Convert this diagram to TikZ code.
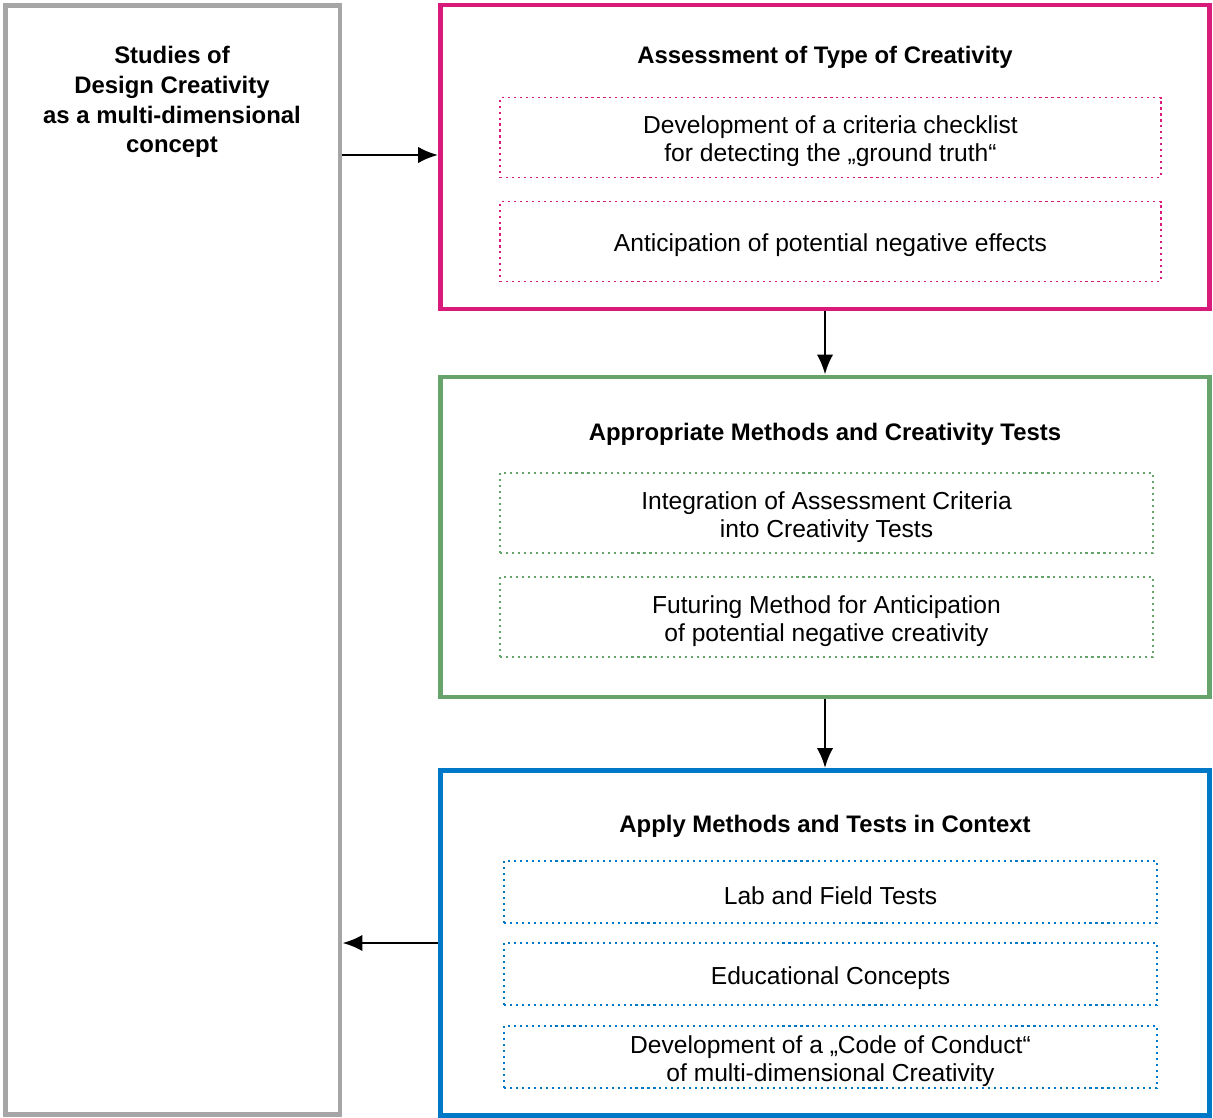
\documentclass[tikz,border=0pt]{standalone}
\usepackage{fontspec}
\setmainfont{Liberation Sans}
\usetikzlibrary{arrows.meta, positioning}
\definecolor{dcGrey}{HTML}{A6A6A6}
\definecolor{dcPink}{HTML}{D81B7B}
\definecolor{dcGreen}{HTML}{66A46B}
\definecolor{dcBlue}{HTML}{0078C8}
\tikzset{
  outerbox/.style={rectangle, draw, line width=2.8pt, minimum width=15.38cm, inner sep=0pt},
  innerbox/.style={rectangle, draw, line width=1.1pt, dash pattern=on 1.2pt off 2.2pt,
    minimum width=13.06cm, minimum height=1.6cm},
  boxtext/.style={align=center, font=\fontsize{14}{16}\selectfont, yshift=-2.3pt},
  titletext/.style={align=center, font=\bfseries\fontsize{13.6}{17}\selectfont},
  dcarrow/.style={-{Latex[length=4mm, width=3.3mm]}, line width=1.6pt, black}
}

\begin{document}
\begin{tikzpicture}[x=0.02cm, y=-0.02cm]
  \useasboundingbox (0,0) rectangle (1213,1118);
  % left column
  \node[outerbox, draw=dcGrey, minimum width=6.69cm, minimum height=22.19cm] (studies) at (172.75,560) {};
  \node[titletext] (studiesT) at (172,102) {Studies of\\Design Creativity\\as a multi-dimensional\\concept};

  % assessment
  \node[outerbox, draw=dcPink, minimum height=6.08cm] (assess) at (825,157) {};
  \node[titletext] (assessT) at (825,57) {Assessment of Type of Creativity};
  \node[innerbox, draw=dcPink, minimum width=13.22cm,
    label={[boxtext]center:Development of a criteria checklist\\for detecting the „ground truth“}] (check) at (830.5,137.5) {};
  \node[innerbox, draw=dcPink, minimum width=13.22cm,
    label={[boxtext]center:Anticipation of potential negative effects}] (anticip) at (830.5,241.5) {};

  % methods
  \node[outerbox, draw=dcGreen, minimum height=6.4cm] (methods) at (825,537) {};
  \node[titletext] (methodsT) at (825,434) {Appropriate Methods and Creativity Tests};
  \node[innerbox, draw=dcGreen,
    label={[boxtext]center:Integration of Assessment Criteria\\into Creativity Tests}] (integr) at (826.5,513) {};
  \node[innerbox, draw=dcGreen,
    label={[boxtext]center:Futuring Method for Anticipation\\of potential negative creativity}] (futur) at (826.5,617) {};

  % context
  \node[outerbox, draw=dcBlue, minimum height=6.9cm] (context) at (825,943) {};
  \node[titletext] (contextT) at (825,826) {Apply Methods and Tests in Context};
  \node[innerbox, draw=dcBlue, minimum height=1.24cm,
    label={[boxtext]center:Lab and Field Tests}] (lab) at (830.5,892) {};
  \node[innerbox, draw=dcBlue, minimum height=1.24cm,
    label={[boxtext]center:Educational Concepts}] (edu) at (830.5,974) {};
  \node[innerbox, draw=dcBlue, minimum height=1.24cm,
    label={[boxtext]center:Development of a „Code of Conduct“\\of multi-dimensional Creativity}] (code) at (830.5,1057) {};

  \draw[dcarrow] (studies.east |- 0,155) -- (assess.west |- 0,155);
  \draw[dcarrow] (assess) -- (methods);
  \draw[dcarrow] (methods) -- (context);
  \draw[dcarrow] (context.west) -- (studies.east |- context.west);
\end{tikzpicture}
\end{document}
